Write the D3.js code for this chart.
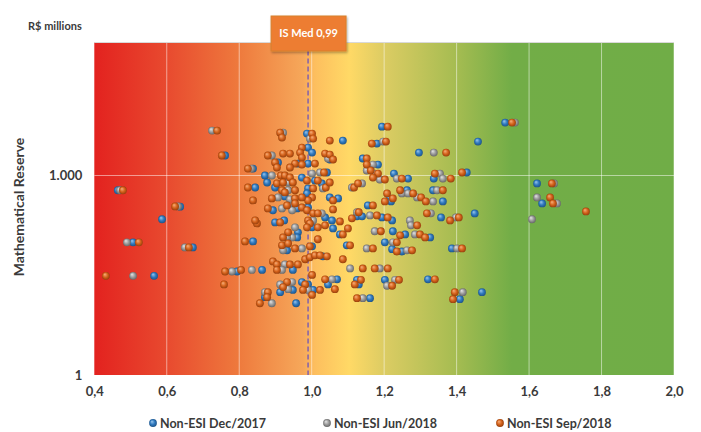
<!DOCTYPE html>
<html>
<head>
<meta charset="utf-8">
<title>Mathematical Reserve vs IS</title>
<script src="https://cdn.jsdelivr.net/npm/d3@7"></script>
<style>
  html, body { margin: 0; padding: 0; background: #fff; }
  text { font-family: Lato, "Open Sans", sans-serif; font-weight: bold; fill: #3a3a3a; }
  .grid line { stroke: #fff; stroke-opacity: 0.5; stroke-width: 1px; }
  .axis path, .axis line { display: none; }
</style>
</head>
<body>
<div id="chart"></div>
<script>
var width = 701,
    height = 432;

// x ticks and y ticks (R$ millions, log)
var xTicks = [0.4, 0.6, 0.8, 1.0, 1.2, 1.4, 1.6, 1.8, 2.0];
var yTicks = [1, 1000];
var median = 0.99;

var seriesNames = ["Non-ESI Dec/2017", "Non-ESI Jun/2018", "Non-ESI Sep/2018"];

// [IS, mathematical reserve]
var dec2017 = [
  [0.465, 600], [0.637, 340], [0.587, 220], [0.507, 99], [0.672, 83], [0.565, 31],
  [0.761, 2000], [0.838, 1270], [0.844, 660], [0.838, 102], [0.794, 36], [0.863, 38],
  [0.957, 12], [0.913, 17.6], [0.871, 14.8], [0.987, 4270], [1.086, 3350], [0.990, 2630],
  [1.001, 2210], [0.907, 1570], [1.050, 1740], [0.962, 1510], [0.990, 1510], [1.042, 1110],
  [0.871, 1000], [0.973, 930], [1.009, 840], [0.877, 785], [1.028, 760], [0.899, 660],
  [0.990, 640], [0.987, 537], [0.926, 484], [0.893, 300], [0.946, 355], [0.960, 320],
  [0.990, 330], [1.037, 234], [1.050, 468], [1.073, 452], [0.899, 197], [0.924, 211],
  [0.962, 140], [0.960, 117], [1.001, 166], [1.056, 211], [0.932, 75], [1.001, 86],
  [1.031, 61], [0.948, 38], [1.045, 23], [0.948, 19], [0.973, 25], [0.990, 23],
  [1.004, 19], [1.194, 5430], [1.534, 6240], [1.459, 3240], [1.180, 3020], [1.296, 2210],
  [1.141, 1800], [1.183, 1460], [1.227, 1070], [1.266, 900], [1.337, 900], [1.428, 1110],
  [1.216, 450], [1.263, 600], [1.362, 407], [1.335, 600], [1.155, 355], [1.219, 407],
  [1.125, 243], [1.139, 243], [1.194, 234], [1.222, 211], [1.357, 234], [1.450, 269],
  [1.622, 760], [1.636, 380], [1.059, 160], [1.078, 130], [1.224, 145], [1.258, 130],
  [1.327, 117], [1.097, 89], [1.202, 99], [1.222, 78], [1.249, 72], [1.387, 80],
  [1.070, 27.5], [1.125, 27], [1.130, 23], [1.202, 27], [1.161, 14.3], [1.321, 27.5],
  [1.470, 17.6], [1.409, 13.8]
];

var jun2018 = [
  [0.471, 600], [0.631, 343], [0.490, 99], [0.650, 83], [0.507, 31], [0.725, 4730],
  [0.833, 1270], [0.780, 36], [0.835, 38], [0.890, 12], [0.871, 17.6], [0.921, 4410],
  [0.995, 3590], [0.890, 2000], [1.045, 1800], [1.023, 1110], [0.890, 1000], [1.001, 1070],
  [0.935, 785], [1.031, 640], [0.935, 600], [0.907, 468], [0.940, 437], [0.918, 320],
  [0.946, 300], [1.028, 270], [1.004, 211], [0.954, 166], [0.946, 117], [0.932, 117],
  [0.921, 75], [0.973, 80], [0.926, 46], [0.918, 38], [0.913, 23], [0.946, 25],
  [0.935, 19.5], [0.990, 19], [1.561, 6240], [1.197, 3240], [1.337, 2210], [1.169, 1460],
  [1.152, 1190], [1.174, 1070], [1.188, 870], [1.235, 900], [1.354, 1070], [1.362, 900],
  [1.111, 660], [1.139, 760], [1.249, 537], [1.266, 537], [1.291, 468], [1.335, 407],
  [1.346, 600], [1.125, 280], [1.161, 251], [1.271, 211], [1.274, 178], [1.329, 270],
  [1.398, 234], [1.669, 760], [1.622, 468], [1.677, 380], [1.608, 220], [1.174, 145],
  [1.285, 130], [1.152, 80], [1.224, 99], [1.263, 75], [1.401, 80], [1.106, 40],
  [1.188, 40], [1.056, 27.5], [1.208, 22], [1.230, 27], [1.141, 14.3], [1.417, 17.6]
];

var sep2018 = [
  [0.479, 600], [0.623, 343], [0.523, 99], [0.661, 83], [0.432, 31], [0.758, 23],
  [0.739, 4730], [0.752, 2000], [0.824, 1270], [0.824, 660], [0.838, 422], [0.849, 190],
  [0.816, 102], [0.761, 36], [0.805, 38], [0.857, 12], [0.879, 17.6], [0.877, 14.8],
  [0.913, 4410], [0.918, 3715], [1.001, 4270], [1.004, 3590], [1.050, 3350], [0.973, 2630],
  [0.968, 2210], [0.879, 2000], [0.899, 1570], [0.904, 1320], [0.921, 2140], [0.940, 2140],
  [0.973, 1860], [1.037, 2140], [1.050, 2065], [1.059, 1740], [0.954, 1510], [0.973, 1460],
  [0.940, 1320], [1.009, 1510], [1.034, 1110], [0.915, 1000], [0.926, 1000], [0.940, 933],
  [0.987, 840], [1.017, 840], [0.904, 760], [0.921, 785], [0.948, 785], [1.039, 660],
  [0.918, 600], [0.926, 556], [0.954, 600], [1.004, 640], [1.001, 468], [0.990, 422],
  [0.890, 452], [0.954, 452], [0.973, 468], [0.879, 320], [0.932, 355], [0.954, 380],
  [0.973, 330], [0.987, 300], [1.004, 270], [1.017, 270], [1.059, 422], [1.059, 309],
  [0.844, 211], [0.913, 197], [0.990, 211], [0.995, 190], [0.935, 140], [0.987, 166],
  [1.017, 166], [1.037, 178], [1.078, 204], [1.017, 110], [0.921, 117], [0.918, 89],
  [0.935, 95], [0.954, 80], [0.995, 86], [0.982, 55], [0.995, 59], [1.009, 63],
  [1.023, 63], [1.042, 61], [0.893, 51], [0.904, 46], [0.940, 46], [0.962, 46],
  [0.904, 38], [1.001, 32], [1.037, 27.5], [0.932, 25], [0.921, 21], [0.982, 23],
  [0.976, 19], [1.023, 19], [1.001, 16], [1.210, 5430], [1.553, 6240], [1.166, 3020],
  [1.205, 3240], [1.371, 2210], [1.152, 1800], [1.152, 1460], [1.163, 1190], [1.183, 1070],
  [1.169, 930], [1.202, 870], [1.249, 900], [1.340, 1070], [1.384, 900], [1.415, 1110],
  [1.050, 785], [1.117, 660], [1.128, 760], [1.208, 537], [1.224, 452], [1.244, 600],
  [1.280, 537], [1.302, 468], [1.315, 407], [1.362, 600], [1.169, 355], [1.202, 407],
  [1.130, 280], [1.111, 227], [1.180, 251], [1.210, 234], [1.291, 178], [1.318, 270],
  [1.382, 211], [1.406, 234], [1.663, 760], [1.658, 468], [1.666, 380], [1.757, 288],
  [1.100, 160], [1.086, 130], [1.191, 145], [1.244, 126], [1.299, 130], [1.313, 117],
  [1.106, 89], [1.169, 80], [1.235, 99], [1.235, 72], [1.277, 75], [1.415, 80],
  [1.086, 55], [1.141, 40], [1.174, 40], [1.210, 40], [1.064, 19.5], [1.119, 23],
  [1.136, 27], [1.222, 22], [1.241, 27], [1.125, 14.3], [1.340, 27.5], [1.395, 17.6],
  [1.390, 13.8]
];

var colors = [
  {base: "#2E78BE", light: "#9CC8EE", dark: "#1D4F80"},
  {base: "#9A9A9A", light: "#E6E6E6", dark: "#606060"},
  {base: "#D4621B", light: "#F8B07C", dark: "#8E3A0A"}
];

var margin = {top: 42.5, right: 27, bottom: 57, left: 94.3};
var plotW = width - margin.left - margin.right,
    plotH = height - margin.top - margin.bottom;

var x = d3.scaleLinear().domain([0.4, 2.0]).range([0, plotW]);
var y = d3.scaleLog().domain([1, 100000]).range([plotH, 0]);

var svg = d3.select("#chart").append("svg")
    .attr("width", width)
    .attr("height", height);

var defs = svg.append("defs");

// background gradient: red -> orange -> yellow -> green
var bg = defs.append("linearGradient")
    .attr("id", "bg")
    .attr("x1", "0%").attr("x2", "100%")
    .attr("y1", "0%").attr("y2", "0%");
[
  [0.00, "#E3221F"], [0.125, "#E84A2F"], [0.25, "#EE7A3D"], [0.36, "#F6A85A"],
  [0.38, "#FDBE5E"], [0.44, "#FFD966"], [0.50, "#DCCC63"], [0.625, "#A5BC51"],
  [0.72, "#72AD47"], [1.00, "#70AD47"]
].forEach(function(s) {
  bg.append("stop").attr("offset", s[0]).attr("stop-color", s[1]);
});

colors.forEach(function(c, i) {
  var g = defs.append("radialGradient")
      .attr("id", "ball" + i)
      .attr("cx", "50%").attr("cy", "50%").attr("r", "55%")
      .attr("fx", "35%").attr("fy", "30%");
  g.append("stop").attr("offset", "0%").attr("stop-color", c.light);
  g.append("stop").attr("offset", "55%").attr("stop-color", c.base);
  g.append("stop").attr("offset", "100%").attr("stop-color", c.dark);
});

var shadow = defs.append("filter")
    .attr("id", "shadow")
    .attr("x", "-20%").attr("y", "-20%")
    .attr("width", "140%").attr("height", "150%");
shadow.append("feDropShadow")
    .attr("dx", 1).attr("dy", 1.5)
    .attr("stdDeviation", 1.2)
    .attr("flood-color", "#000")
    .attr("flood-opacity", 0.3);

var g = svg.append("g")
    .attr("transform", "translate(" + margin.left + "," + margin.top + ")");

g.append("rect")
    .attr("width", plotW)
    .attr("height", plotH)
    .attr("fill", "url(#bg)");

// gridlines
var grid = g.append("g").attr("class", "grid");
grid.selectAll(".vx")
    .data(xTicks.slice(1))
    .enter().append("line")
    .attr("x1", function(d) { return x(d); })
    .attr("x2", function(d) { return x(d); })
    .attr("y1", 0).attr("y2", plotH);
grid.selectAll(".hy")
    .data(yTicks.slice(1))
    .enter().append("line")
    .attr("x1", 0).attr("x2", plotW)
    .attr("y1", function(d) { return y(d); })
    .attr("y2", function(d) { return y(d); });

g.append("line")
    .attr("x1", 0).attr("x2", plotW)
    .attr("y1", 0).attr("y2", 0)
    .attr("stroke", "#d9d9d9");

// median line
g.append("line")
    .attr("x1", x(median)).attr("x2", x(median))
    .attr("y1", 8).attr("y2", plotH)
    .attr("stroke", "#8A64A8")
    .attr("stroke-width", 1.6)
    .attr("stroke-dasharray", "5,3");

// points
var all = [dec2017, jun2018, sep2018];
all.forEach(function(data, i) {
  g.append("g").selectAll("circle")
      .data(data)
      .enter().append("circle")
      .attr("cx", function(d) { return x(d[0]); })
      .attr("cy", function(d) { return y(d[1]); })
      .attr("r", 3.9)
      .attr("fill", "url(#ball" + i + ")");
});

// axes
var xAxis = g.append("g")
    .attr("class", "axis")
    .attr("transform", "translate(0," + plotH + ")")
    .call(d3.axisBottom(x).tickValues(xTicks).tickSize(0).tickPadding(12)
      .tickFormat(function(d) { return d3.format(".1f")(d).replace(".", ","); }));
xAxis.selectAll("text").style("font-size", "13px");

var yAxis = g.append("g")
    .attr("class", "axis")
    .call(d3.axisLeft(y).tickValues(yTicks).tickSize(0).tickPadding(12)
      .tickFormat(function(d) { return d3.format(",")(d).replace(",", "."); }));
yAxis.selectAll("text").style("font-size", "13px");

svg.append("text")
    .attr("transform", "translate(24,207) rotate(-90)")
    .attr("text-anchor", "middle")
    .style("font-size", "14px")
    .text("Mathematical Reserve");

svg.append("text")
    .attr("x", 28).attr("y", 30)
    .style("font-size", "11px")
    .text("R$ millions");

// median label
var mx = margin.left + x(median);
svg.append("rect")
    .attr("x", mx - 37).attr("y", 16)
    .attr("width", 75).attr("height", 35)
    .attr("fill", "#ED7D31")
    .attr("stroke", "#D7812F")
    .attr("stroke-width", 1)
    .attr("filter", "url(#shadow)");
svg.append("text")
    .attr("x", mx + 0.5).attr("y", 37)
    .attr("text-anchor", "middle")
    .style("fill", "#fff")
    .style("font-size", "11px")
    .text("IS Med " + d3.format(".2f")(median).replace(".", ","));

// legend
var legendX = [153, 327, 500];
var legend = svg.append("g").selectAll("g")
    .data(seriesNames)
    .enter().append("g")
    .attr("transform", function(d, i) { return "translate(" + legendX[i] + ",423)"; });
legend.append("circle")
    .attr("r", 3.9)
    .attr("fill", function(d, i) { return "url(#ball" + i + ")"; });
legend.append("text")
    .attr("x", 7).attr("y", 4.5)
    .style("font-size", "12.5px")
    .text(function(d) { return d; });
</script>
</body>
</html>
